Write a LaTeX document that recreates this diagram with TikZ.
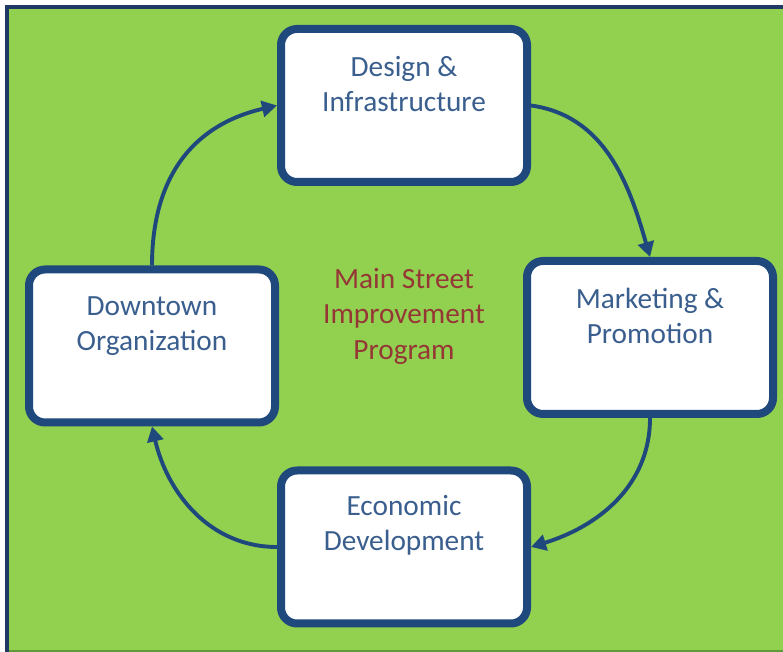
\documentclass[tikz,border=0pt]{standalone}
\usepackage{fontspec}
\setmainfont{Carlito}
\usetikzlibrary{arrows.meta}
\definecolor{bggreen}{HTML}{92D050}
\definecolor{edgegreen}{HTML}{5E9A3A}
\definecolor{framenavy}{HTML}{1F3864}
\definecolor{boxblue}{HTML}{1F497D}
\definecolor{labelblue}{HTML}{3A5F8E}
\definecolor{titlered}{HTML}{953735}
\tikzset{
  stagebox/.style={draw=boxblue, fill=white, line width=8pt, rounded corners=16pt,
    minimum width=246pt, minimum height=153pt, inner sep=0pt},
  stagetext/.style={text=labelblue, align=center, font=\fontsize{29.3}{35}\selectfont, inner sep=0pt},
  cycle/.style={draw=boxblue, line width=3.9pt, -{Triangle[length=15pt,width=16pt]}}
}
\begin{document}
\begin{tikzpicture}[x=1pt,y=1pt]
  \useasboundingbox (0,0) rectangle (783,652);
  % panel background and frame
  \fill[bggreen] (7,0) rectangle (783,645);
  \draw[edgegreen, line width=2pt] (7,1) -- (783,1);
  \draw[framenavy, line width=4pt] (7,0) -- (7,645) -- (783,645);

  % the four stages
  \node[stagebox] (design) at (404,546.5) {};
  \node[stagebox] (market) at (650,314.5) {};
  \node[stagebox] (econ)   at (404,105) {};
  \node[stagebox] (org)    at (152,306) {};

  \node[stagetext] (designtxt) at ([yshift=21.5pt]design.center) {Design \&\\Infrastructure};
  \node[stagetext] (markettxt) at ([yshift=21.5pt]market.center) {Marketing \&\\Promotion};
  \node[stagetext] (econtxt)   at ([yshift=21.5pt]econ.center)   {Economic\\Development};
  \node[stagetext] (orgtxt)    at ([yshift=20pt]org.center)      {Downtown\\Organization};

  % programme title in the middle
  \node[text=titlered, align=center, font=\fontsize{29.3}{35.5}\selectfont, inner sep=0pt]
    (title) at (404,336) {Main Street\\Improvement\\Program};

  % cycle connectors
  \draw[cycle] (org.north)   to[out=90,  in=193, looseness=1.1] (design.west);
  \draw[cycle] (design.east) to[out=-8,  in=106] (market.north);
  \draw[cycle] (market.south) to[out=-90, in=17] (econ.east);
  \draw[cycle] (econ.west)   to[out=180, in=-77] (org.south);
\end{tikzpicture}
\end{document}
